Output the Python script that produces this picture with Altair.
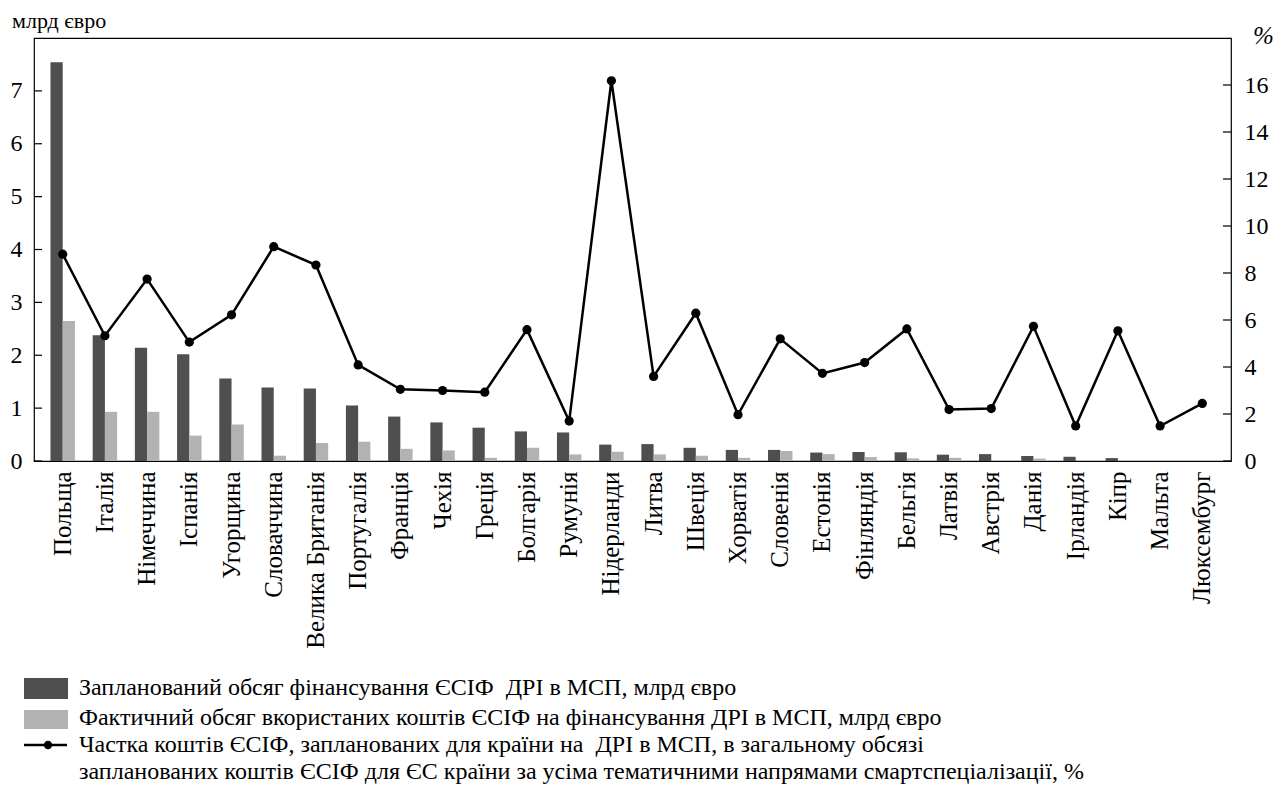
import altair as alt
import pandas as pd

countries = ["Польща", "Італія", "Німеччина", "Іспанія", "Угорщина", "Словаччина",
             "Велика Британія", "Португалія", "Франція", "Чехія", "Греція", "Болгарія",
             "Румунія", "Нідерланди", "Литва", "Швеція", "Хорватія", "Словенія",
             "Естонія", "Фінляндія", "Бельгія", "Латвія", "Австрія", "Данія",
             "Ірландія", "Кіпр", "Мальта", "Люксембург"]
planned = [7.54, 2.38, 2.14, 2.02, 1.56, 1.39, 1.37, 1.05, 0.84, 0.73, 0.63, 0.56,
           0.54, 0.31, 0.32, 0.25, 0.21, 0.21, 0.16, 0.17, 0.165, 0.12, 0.13, 0.095,
           0.08, 0.055, 0.0, 0.0]
actual = [2.65, 0.93, 0.93, 0.48, 0.69, 0.10, 0.34, 0.365, 0.23, 0.20, 0.06, 0.25,
          0.125, 0.175, 0.125, 0.10, 0.06, 0.19, 0.13, 0.075, 0.05, 0.06, 0.0, 0.045,
          0.0, 0.0, 0.0, 0.0]
share = [8.8, 5.33, 7.74, 5.06, 6.22, 9.12, 8.34, 4.09, 3.05, 3.0, 2.93, 5.59,
         1.7, 16.18, 3.6, 6.29, 1.97, 5.2, 3.73, 4.19, 5.62, 2.19, 2.23, 5.73,
         1.49, 5.54, 1.49, 2.45]
left_ticks = [0, 1, 2, 3, 4, 5, 6, 7]
right_ticks = [0, 2, 4, 6, 8, 10, 12, 14, 16]

series_names = ["Запланований", "Фактичний"]
legend_lines = [
    "Запланований обсяг фінансування ЄСІФ \u00a0ДРІ в МСП, млрд євро",
    "Фактичний обсяг вкористаних коштів ЄСІФ на фінансування ДРІ в МСП, млрд євро",
    "Частка коштів ЄСІФ, запланованих для країни на \u00a0ДРІ в МСП, в загальному обсязі",
    "запланованих коштів ЄСІФ для ЄС країни за усіма тематичними напрямами смартспеціалізації, %",
]
DARK = "#4f4f4f"
LIGHT = "#b2b2b2"
FONT = "Liberation Serif"
W, H = 1197, 423

bars_df = pd.DataFrame({
    "country": countries * 2,
    "series": [series_names[0]] * len(countries) + [series_names[1]] * len(countries),
    "value": planned + actual,
})
line_df = pd.DataFrame({"country": countries, "share": share})
lt_df = pd.DataFrame({"value": left_ticks})
rt_df = pd.DataFrame({"share": right_ticks})
one = pd.DataFrame({"a": [0]})

xscale = alt.Scale(paddingInner=0.42, paddingOuter=0.39)
xaxis = alt.Axis(title=None, labelAngle=-90, ticks=False, domain=False,
                 labelFontSize=25, labelPadding=10, labelColor="black",
                 labelFont=FONT, labelLimit=400)
yl_scale = alt.Scale(domain=[0, 8], nice=False)
yl_axis = alt.Axis(title=None, values=left_ticks, ticks=False, domain=False, grid=False,
                   labelFontSize=24, labelPadding=12, labelColor="black", labelFont=FONT)
yr_scale = alt.Scale(domain=[0, 18], nice=False)
yr_axis = alt.Axis(title=None, orient="right", values=right_ticks, ticks=False, domain=False,
                   grid=False, labelFontSize=24, labelPadding=13, labelColor="black",
                   labelFont=FONT)

bars = alt.Chart(bars_df).mark_bar().encode(
    x=alt.X("country:N", sort=countries, scale=xscale, axis=xaxis),
    xOffset=alt.XOffset("series:N", sort=series_names),
    y=alt.Y("value:Q", scale=yl_scale, axis=yl_axis),
    color=alt.Color("series:N", scale=alt.Scale(domain=series_names, range=[DARK, LIGHT]),
                    legend=None),
)
lticks = alt.Chart(lt_df).mark_rule(color="black", strokeWidth=1.2).encode(
    y=alt.Y("value:Q", scale=yl_scale, axis=yl_axis),
    x=alt.value(0), x2=alt.value(8),
)

def txt(s, x, y, size=24, baseline="middle", italic=False):
    return alt.Chart(one).mark_text(
        text=s, align="left", baseline=baseline, fontSize=size, font=FONT,
        color="black", fontStyle="italic" if italic else "normal",
    ).encode(x=alt.value(x), y=alt.value(y))

title_l = txt("млрд євро", -22, -10, size=22, baseline="alphabetic")
title_r = txt("%", 1219, -2, size=25, italic=True)

leg_rect1 = alt.Chart(one).mark_rect(color=DARK).encode(
    x=alt.value(-10), x2=alt.value(34), y=alt.value(640), y2=alt.value(661))
leg_rect2 = alt.Chart(one).mark_rect(color=LIGHT).encode(
    x=alt.value(-10), x2=alt.value(34), y=alt.value(672), y2=alt.value(691))
leg_rule = alt.Chart(one).mark_rule(color="black", strokeWidth=2.5).encode(
    x=alt.value(-10), x2=alt.value(33), y=alt.value(707))
leg_pt = alt.Chart(one).mark_point(filled=True, color="black", size=70, opacity=1).encode(
    x=alt.value(14), y=alt.value(707))
leg_t1 = txt(legend_lines[0], 45, 650)
leg_t2 = txt(legend_lines[1], 45, 680)
leg_t3 = txt(legend_lines[2], 45, 707)
leg_t4 = txt(legend_lines[3], 45, 734)

left_layer = alt.layer(bars, lticks, title_l, title_r, leg_rect1, leg_rect2, leg_rule,
                       leg_pt, leg_t1, leg_t2, leg_t3, leg_t4)

line = alt.Chart(line_df).mark_line(color="black", strokeWidth=2.5).encode(
    x=alt.X("country:N", sort=countries, scale=xscale, axis=xaxis),
    y=alt.Y("share:Q", scale=yr_scale, axis=yr_axis),
)
pts = alt.Chart(line_df).mark_point(filled=True, color="black", size=85, opacity=1).encode(
    x=alt.X("country:N", sort=countries, scale=xscale, axis=xaxis),
    y=alt.Y("share:Q", scale=yr_scale, axis=yr_axis),
)
rticks = alt.Chart(rt_df).mark_rule(color="black", strokeWidth=1.2).encode(
    y=alt.Y("share:Q", scale=yr_scale, axis=yr_axis),
    x=alt.value(W - 8), x2=alt.value(W),
)
right_layer = alt.layer(line, pts, rticks)

chart = alt.layer(left_layer, right_layer).resolve_scale(y="independent").properties(
    width=W, height=H,
    autosize=alt.AutoSizeParams(type="none"),
    padding={"left": 26, "top": 30, "right": 42, "bottom": 327},
).configure_view(stroke="black", strokeWidth=1.2)

chart.save("out.html", embed_options={"renderer": "svg", "actions": False})
